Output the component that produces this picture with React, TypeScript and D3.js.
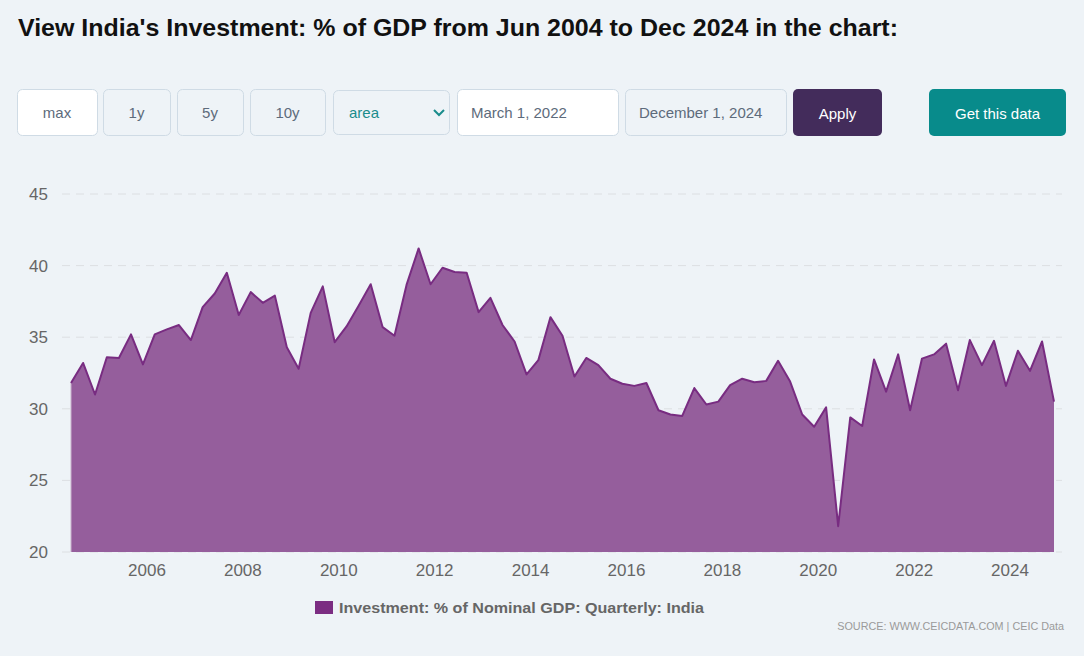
import * as d3 from 'd3';
import React from 'react';

// quarterly, starting Jun 2004
const startYear = 2004;
const startMonth = 5; // June
const values: number[] = [
  31.8, 33.2, 31.0, 33.6, 33.55, 35.2, 33.1, 35.2, 35.55, 35.85,
  34.8, 37.1, 38.05, 39.5, 36.55, 38.15, 37.4, 37.9, 34.3, 32.8,
  36.7, 38.55, 34.65, 35.75, 37.2, 38.7, 35.7, 35.1, 38.65, 41.2,
  38.7, 39.85, 39.55, 39.5, 36.75, 37.75, 35.85, 34.7, 32.4, 33.4,
  36.4, 35.1, 32.25, 33.55, 33.05, 32.1, 31.75, 31.6, 31.8, 29.9,
  29.6, 29.5, 31.45, 30.3, 30.5, 31.65, 32.1, 31.85, 31.95, 33.35,
  31.9, 29.6, 28.75, 30.1, 21.8, 29.4, 28.8, 33.45, 31.2, 33.8,
  29.9, 33.5, 33.8, 34.55, 31.3, 34.8, 33.05, 34.75, 31.6, 34.05,
  32.65, 34.7, 30.5,
];
const yTicks = [20, 25, 30, 35, 40, 45];
const xTickYears = [2006, 2008, 2010, 2012, 2014, 2016, 2018, 2020, 2022, 2024];
const rangeButtons = ['max', '1y', '5y', '10y'];
const seriesName = 'Investment: % of Nominal GDP: Quarterly: India';

const W = 1084;
const H = 656;
const BG = '#eef3f7';
const FONT = '"Liberation Sans", Arial, sans-serif';

const data = values.map((v, i) => ({ date: new Date(startYear, startMonth + 3 * i, 1), value: v }));

export default function App() {
  React.useEffect(() => {
    document.body.style.margin = '0';
    document.body.style.background = BG;
  }, []);

  const x = d3.scaleTime()
    .domain([data[0].date, data[data.length - 1].date])
    .range([71, 1054]);
  const y = d3.scaleLinear().domain([20, 45]).range([552, 194]);

  const area = d3.area<{ date: Date; value: number }>()
    .x(d => x(d.date))
    .y0(y(20))
    .y1(d => y(d.value));
  const line = d3.line<{ date: Date; value: number }>()
    .x(d => x(d.date))
    .y(d => y(d.value));

  const btnX = [17, 103, 177, 250];
  const btnW = [80, 67, 66, 75];

  return (
    <svg width={W} height={H} style={{ display: 'block' }} fontFamily={FONT}>
      <rect width={W} height={H} fill={BG} />
      <text x={18} y={36} fontSize={24.5} fontWeight="bold" fill="#111" textLength={880} lengthAdjust="spacingAndGlyphs">
        View India's Investment: % of GDP from Jun 2004 to Dec 2024 in the chart:
      </text>

      {/* controls */}
      {rangeButtons.map((b, i) => (
        <g key={b}>
          <rect x={btnX[i] + 0.5} y={89.5} width={btnW[i]} height={46} rx={5}
            fill={i === 0 ? '#fff' : BG} stroke="#cfdbe5" />
          <text x={btnX[i] + btnW[i] / 2} y={118} textAnchor="middle" fontSize={15} fill="#5d6b7b">{b}</text>
        </g>
      ))}
      <rect x={333.5} y={90.5} width={116} height={44} rx={5} fill={BG} stroke="#cfdbe5" />
      <text x={349} y={118} fontSize={15} fill="#1a8c8c">area</text>
      <path d="M434,110 L439,115 L444,110" fill="none" stroke="#1a8c8c" strokeWidth={2} />
      <rect x={457.5} y={89.5} width={161} height={46} rx={5} fill="#fff" stroke="#cfdbe5" />
      <text x={471} y={118} fontSize={15} fill="#5d6b7b">March 1, 2022</text>
      <rect x={625.5} y={89.5} width={161} height={46} rx={5} fill={BG} stroke="#cfdbe5" />
      <text x={639} y={118} fontSize={15} fill="#5d6b7b">December 1, 2024</text>
      <rect x={793} y={89} width={89} height={47} rx={5} fill="#432c5b" />
      <text x={837.5} y={119} textAnchor="middle" fontSize={15} fill="#fff">Apply</text>
      <rect x={929} y={89} width={137} height={47} rx={5} fill="#088b8b" />
      <text x={997.5} y={119} textAnchor="middle" fontSize={15} fill="#fff">Get this data</text>

      {/* grid + y axis */}
      {yTicks.map(t => (
        <g key={t}>
          <line x1={62} x2={1062} y1={y(t)} y2={y(t)} stroke="#dcdfe2" strokeDasharray="8,6" />
          <text x={48} y={y(t) + 6} textAnchor="end" fontSize={17} fill="#666">{t}</text>
        </g>
      ))}

      {/* series */}
      <path d={area(data) ?? ''} fill="#955e9c" />
      <line x1={71} x2={71} y1={y(20)} y2={y(values[0])} stroke="#c9b3cc" strokeWidth={1} />
      <path d={line(data) ?? ''} fill="none" stroke="#782c81" strokeWidth={2} strokeLinejoin="round" />

      {/* x axis labels */}
      {xTickYears.map(yr => (
        <text key={yr} x={x(new Date(yr, 0, 1))} y={576} textAnchor="middle" fontSize={17} fill="#666">{yr}</text>
      ))}

      {/* legend */}
      <rect x={315} y={601} width={18} height={13} fill="#7b2d82" />
      <text x={339} y={613} fontSize={15} fontWeight="bold" fill="#666" textLength={365} lengthAdjust="spacingAndGlyphs">
        {seriesName}
      </text>
      <text x={1064} y={630} textAnchor="end" fontSize={10.8} fill="#9a9a9a">SOURCE: WWW.CEICDATA.COM | CEIC Data</text>
    </svg>
  );
}
